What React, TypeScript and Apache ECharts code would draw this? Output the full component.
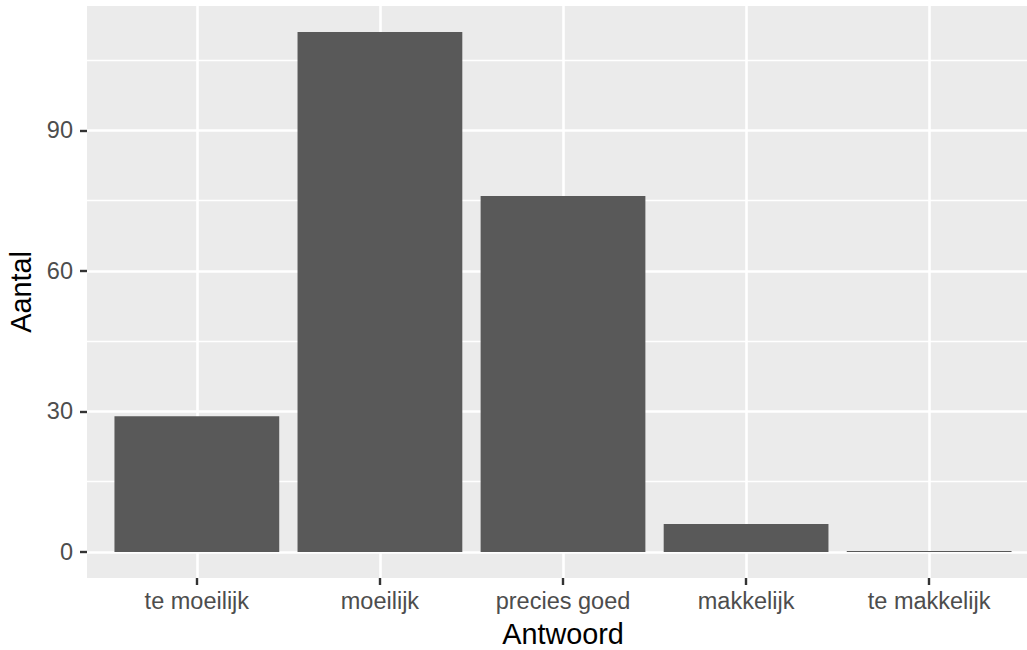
import React, { useEffect, useRef } from "react";
import * as echarts from "echarts";

const categories = ["te moeilijk", "moeilijk", "precies goed", "makkelijk", "te makkelijk"];
const counts = [29, 111, 76, 6, 0];
const yTicks = [0, 30, 60, 90];
const yMinor = [15, 45, 75, 105];
const xPositions = [1, 2, 3, 4, 5];

const FONT = "'Liberation Sans', Arial, Helvetica, sans-serif";

export default function App() {
  const ref = useRef<HTMLDivElement>(null);

  useEffect(() => {
    if (!ref.current) return;
    const chart = echarts.init(ref.current, null, { renderer: "svg" });
    const yMax = Math.max(...counts);
    const yPad = yMax * 0.05;

    const gridLines: any[] = [];
    yTicks.forEach((v) => gridLines.push({ yAxis: v, lineStyle: { width: 2.6 } }));
    yMinor.forEach((v) => gridLines.push({ yAxis: v, lineStyle: { width: 1.3 } }));
    xPositions.forEach((v) => gridLines.push({ xAxis: v, lineStyle: { width: 2.6 } }));

    chart.setOption({
      animation: false,
      textStyle: { fontFamily: FONT },
      grid: {
        left: 87,
        top: 6,
        width: 952,
        height: 572,
        show: true,
        backgroundColor: "#EBEBEB",
        borderWidth: 0,
        containLabel: false,
        outerBoundsMode: "none",
      },
      xAxis: {
        type: "value",
        min: 0.4,
        max: 5.6,
        axisLine: { show: false, onZero: false },
        splitLine: { show: false },
        axisTick: {
          show: true,
          customValues: xPositions,
          length: 7,
          lineStyle: { color: "#333333", width: 2.4, opacity: 1 },
        },
        axisLabel: {
          customValues: xPositions,
          formatter: (v: number) => categories[Math.round(v) - 1] ?? "",
          color: "#4D4D4D",
          fontSize: 23.5,
          fontFamily: FONT,
          margin: 11,
        },
        name: "Antwoord",
        nameLocation: "middle",
        nameGap: 41,
        nameTextStyle: { color: "#000000", fontSize: 28.8, fontFamily: FONT },
      },
      yAxis: {
        type: "value",
        min: -yPad,
        max: yMax + yPad,
        axisLine: { show: false, onZero: false },
        splitLine: { show: false },
        axisTick: {
          show: true,
          customValues: yTicks,
          length: 7,
          lineStyle: { color: "#333333", width: 2.4, opacity: 1 },
        },
        axisLabel: {
          customValues: yTicks,
          color: "#4D4D4D",
          fontSize: 23.5,
          fontFamily: FONT,
          margin: 14,
        },
        name: "Aantal",
        nameLocation: "middle",
        nameGap: 49,
        nameRotate: 90,
        nameTextStyle: { color: "#000000", fontSize: 28.8, fontFamily: FONT },
      },
      series: [
        {
          type: "line",
          data: [],
          z: 1,
          silent: true,
          markLine: {
            silent: true,
            z: 1,
            symbol: ["none", "none"],
            label: { show: false },
            emphasis: { disabled: true },
            lineStyle: { color: "#FFFFFF", type: "solid" },
            data: gridLines,
          },
        },
        {
          type: "bar",
          z: 3,
          data: counts.map((c, i) => [xPositions[i], c]),
          barWidth: "90%",
          barMinHeight: 1,
          itemStyle: { color: "#595959" },
          emphasis: { disabled: true },
          silent: true,
        },
      ],
    });
    return () => chart.dispose();
  }, []);

  return (
    <div
      ref={ref}
      style={{ position: "fixed", left: 0, top: 0, width: 1027, height: 650, background: "#FFFFFF" }}
    />
  );
}
